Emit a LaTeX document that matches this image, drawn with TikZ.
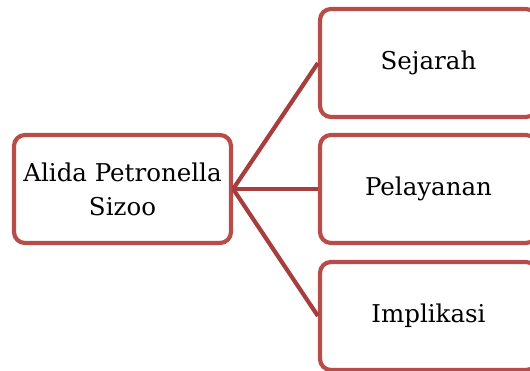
\documentclass[tikz,border=0pt]{standalone}
\usepackage{fontspec}
\setmainfont{DejaVu Serif}
\definecolor{boxred}{RGB}{184,76,73}
\definecolor{linered}{RGB}{165,62,60}
\begin{document}
\begin{tikzpicture}[x=1pt,y=-1pt,
  box/.style={draw=boxred, line width=4.2pt, rounded corners=11pt, fill=white,
    minimum width=217pt, minimum height=108pt, inner sep=0pt, align=center,
    font=\fontsize{24.5}{34}\selectfont},
  conn/.style={draw=linered, line width=4.2pt}]
\useasboundingbox (0,0) rectangle (530,371);
\clip (0,0) rectangle (530,371);
\node[box] (L) at (122.5,189) {Alida Petronella\\Sizoo};
\node[box] (S) at (428.5,63) {Sejarah};
\node[box] (P) at (428.5,189) {Pelayanan};
\node[box] (I) at (428.5,316) {Implikasi};
\draw[conn] (L.east) -- (S.west);
\draw[conn] (L.east) -- (P.west);
\draw[conn] (L.east) -- (I.west);
\end{tikzpicture}
\end{document}
